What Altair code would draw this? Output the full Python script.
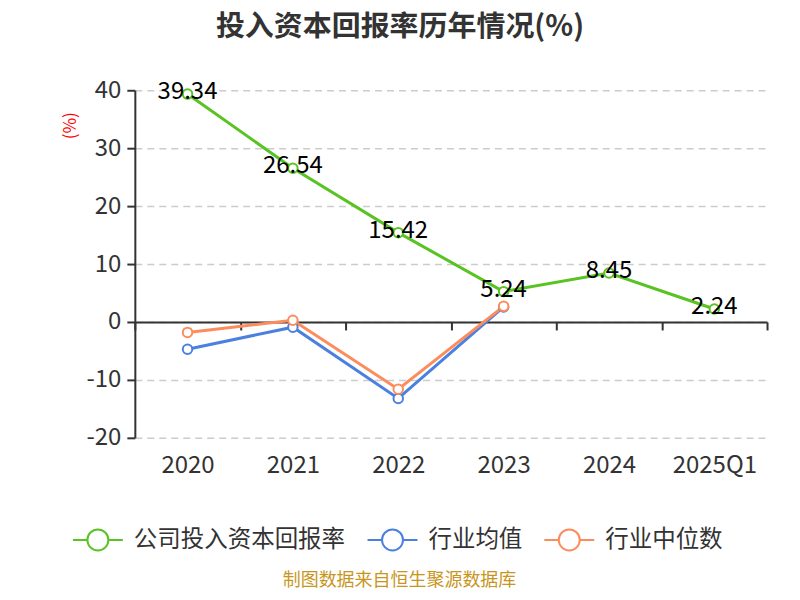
import altair as alt
import pandas as pd

years = ["2020", "2021", "2022", "2023", "2024", "2025Q1"]
company = [39.34, 26.54, 15.42, 5.24, 8.45, 2.24]
industry_avg = [-4.7, -0.9, -13.2, 2.6, None, None]
industry_median = [-1.8, 0.3, -11.6, 2.7, None, None]
series_names = ["公司投入资本回报率", "行业均值", "行业中位数"]
colors = ["#58c322", "#4a80e0", "#fd8c5c"]
y_ticks = [-20, -10, 0, 10, 20, 30, 40]

rows = []
for name, vals in zip(series_names, [company, industry_avg, industry_median]):
    for yr, v in zip(years, vals):
        if v is not None:
            rows.append({"year": yr, "series": name, "value": v})
df = pd.DataFrame(rows)

FONT = "Noto Sans CJK SC"
sym_path = ("M-1,0L-0.42,0M0.42,0L1,0M0.42,0"
            "A0.42,0.42,0,1,1,-0.42,0A0.42,0.42,0,1,1,0.42,0")

x_enc = alt.X(
    "year:N", sort=years,
    scale=alt.Scale(type="band", paddingInner=0, paddingOuter=0),
    axis=alt.Axis(
        title=None, offset=-116, domain=True, domainColor="#333", domainWidth=2,
        ticks=True, tickBand="extent", tickSize=8, tickColor="#333", tickWidth=2,
        labelPadding=124, labelFontSize=24, labelColor="#333", labelFont=FONT,
        labelAngle=0, grid=False,
    ),
)
y_enc = alt.Y(
    "value:Q",
    scale=alt.Scale(domain=[-20, 40], nice=False, zero=False),
    axis=alt.Axis(
        values=y_ticks, domain=True, domainColor="#333", domainWidth=2,
        tickSize=8, tickColor="#333", tickWidth=2,
        labelFontSize=24, labelColor="#333", labelFont=FONT, labelPadding=6,
        labelExpr="toString(datum.value)",
        grid=True, gridDash=[7, 5], gridColor="#cccccc", gridWidth=1.5,
        title="(%)", titleColor="red", titleFontSize=17, titleFontWeight="normal",
        titleFont=FONT, titleX=-55, titleY=35,
    ),
)
color_enc = alt.Color(
    "series:N",
    scale=alt.Scale(domain=series_names, range=colors),
    legend=alt.Legend(
        orient="none", legendX=-63, legendY=424, direction="horizontal",
        title=None, symbolType=sym_path, symbolSize=2500, symbolStrokeWidth=2,
        symbolFillColor="white", labelFontSize=23.5, labelColor="#333",
        labelFont=FONT, columnPadding=18, labelOffset=10, labelLimit=0,
    ),
)

base = alt.Chart(df)
lines = base.mark_line(strokeWidth=3).encode(x=x_enc, y=y_enc, color=color_enc)
points = base.mark_point(
    shape="circle", filled=False, fill="white", fillOpacity=1, size=90, strokeWidth=2, opacity=1
).encode(x=x_enc, y=y_enc, color=color_enc)
labels = base.transform_filter(alt.datum.series == series_names[0]).mark_text(
    fontSize=24, font=FONT, color="black", dy=-2
).encode(x=x_enc, y=y_enc, text=alt.Text("value:Q", format=".2f"))
source = alt.Chart(pd.DataFrame({"t": ["制图数据来自恒生聚源数据库"]})).mark_text(
    fontSize=18, font=FONT, color="#c8961e"
).encode(x=alt.value(265), y=alt.value(491), text="t:N")

chart = alt.layer(lines, points, labels, source).properties(
    width=633, height=348,
    title=alt.TitleParams(
        text="投入资本回报率历年情况(%)", fontSize=29, font=FONT, fontWeight="bold",
        color="#333", anchor="middle", dx=-51, offset=36,
    ),
    autosize="none",
    padding={"left": 127, "top": 82, "right": 25, "bottom": 154},
).configure_view(stroke=None)

chart.save("out.html", embed_options={"renderer": "svg", "actions": False})
